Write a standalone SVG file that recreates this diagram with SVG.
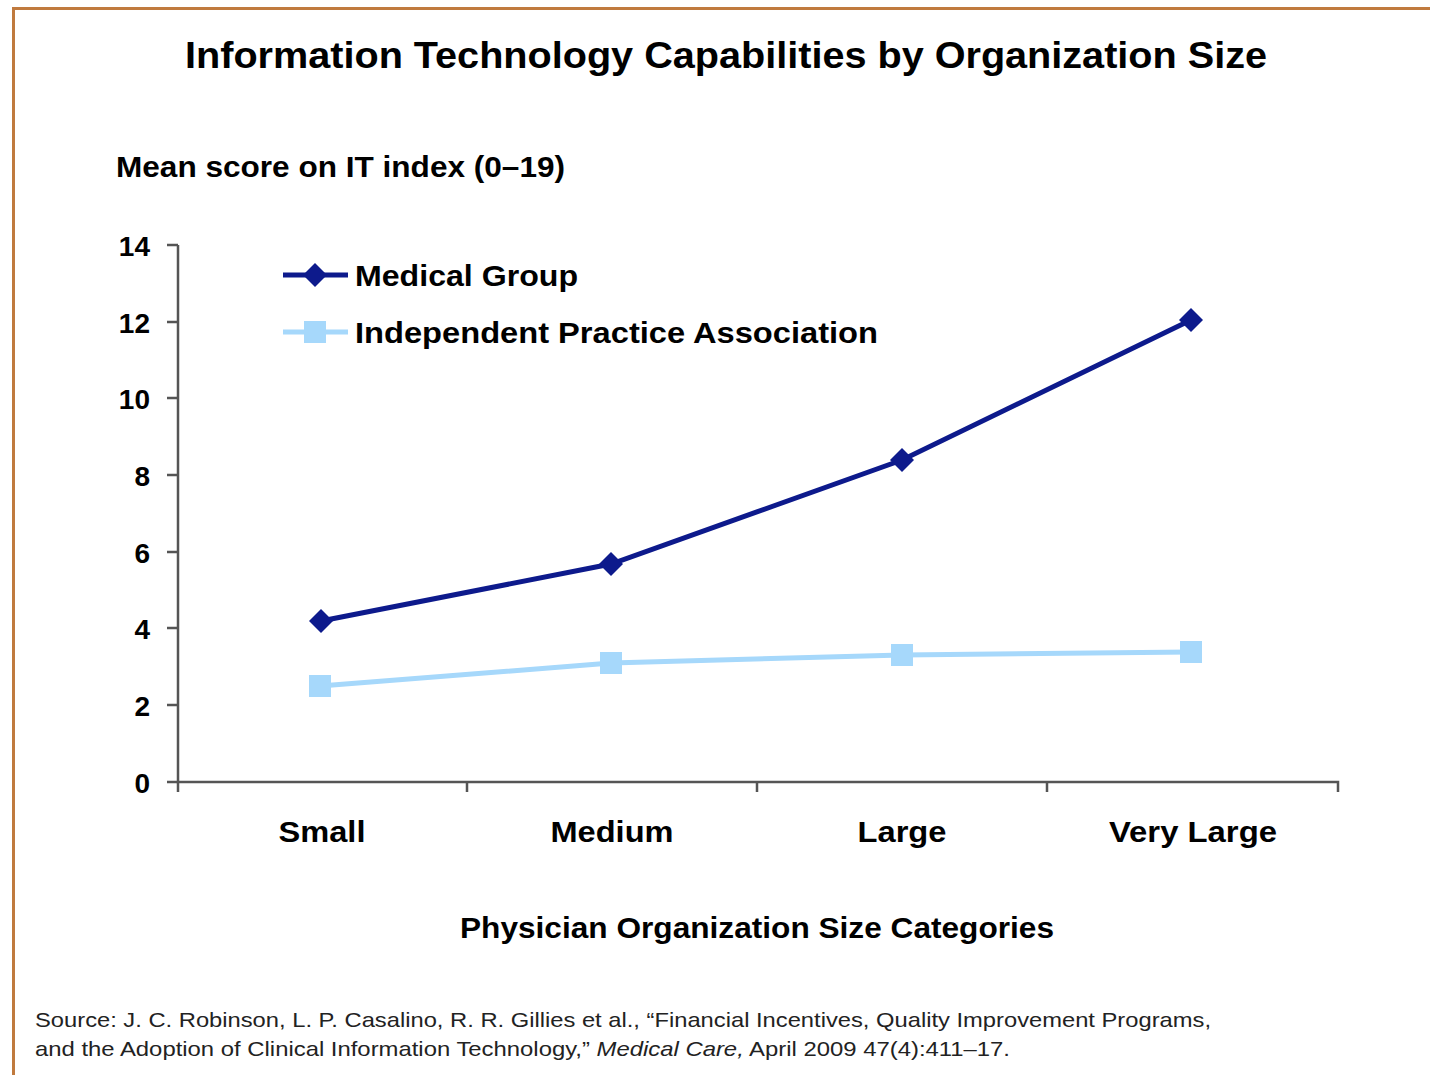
<svg xmlns="http://www.w3.org/2000/svg" width="1430" height="1075" viewBox="0 0 1430 1075">
<style>
text { font-family: "Liberation Sans", Arial, sans-serif; fill: #000; }
.b { font-weight: bold; }
.tick { font-size: 28px; font-weight: bold; text-anchor: end; }
.cat { font-size: 30px; font-weight: bold; text-anchor: middle; }
.axis { stroke: #555; stroke-width: 2.5; fill: none; }
.mg { stroke: #0d1a8c; stroke-width: 5; fill: none; }
.ipa { stroke: #a6d8fb; stroke-width: 5; fill: none; }
.src { font-size: 21px; fill: #222; }
</style>
<defs>
<polygon id="dia" points="0,-12 12,0 0,12 -12,0" fill="#0d1a8c"/>
<rect id="sq" x="-11" y="-11" width="22" height="22" fill="#a6d8fb"/>
</defs>
<rect x="0" y="0" width="1430" height="1075" fill="#fff"/>
<path d="M13.5,1080 V8.5 H1440" fill="none" stroke="#c07a3e" stroke-width="3"/>
<g id="title"><text x="726" y="68" class="b" font-size="36" text-anchor="middle" textLength="1082" lengthAdjust="spacingAndGlyphs">Information Technology Capabilities by Organization Size</text></g>
<g id="ylabel"><text x="116" y="177" class="b" font-size="29" textLength="449" lengthAdjust="spacingAndGlyphs">Mean score on IT index (0–19)</text></g>
<g id="axes">
<path class="axis" d="M178,245 V782 H1338 V792"/>
<path class="axis" d="M167,245 H178 M167,322 H178 M167,398 H178 M167,475 H178 M167,552 H178 M167,628 H178 M167,705 H178 M167,782 H178 M178,782 V792 M467,782 V792 M757,782 V792 M1047,782 V792"/>
<text class="tick" x="150" y="256">14</text>
<text class="tick" x="150" y="333">12</text>
<text class="tick" x="150" y="409">10</text>
<text class="tick" x="150" y="486">8</text>
<text class="tick" x="150" y="563">6</text>
<text class="tick" x="150" y="639">4</text>
<text class="tick" x="150" y="716">2</text>
<text class="tick" x="150" y="793">0</text>
<text class="cat" x="322" y="842" textLength="87" lengthAdjust="spacingAndGlyphs">Small</text>
<text class="cat" x="612" y="842" textLength="123" lengthAdjust="spacingAndGlyphs">Medium</text>
<text class="cat" x="902" y="842" textLength="89" lengthAdjust="spacingAndGlyphs">Large</text>
<text class="cat" x="1193" y="842" textLength="168" lengthAdjust="spacingAndGlyphs">Very Large</text>
<text class="cat" x="757" y="938" textLength="594" lengthAdjust="spacingAndGlyphs">Physician Organization Size Categories</text>
</g>
<g id="connectors">
<polyline id="ipa-line" class="ipa" points="320,686 611,663 902,655 1191,652"/>
<polyline id="mg-line" class="mg" points="321,621 611,564 902,460 1191,320"/>
</g>
<g id="ipa-points">
<use href="#sq" x="320" y="686"/><use href="#sq" x="611" y="663"/><use href="#sq" x="902" y="655"/><use href="#sq" x="1191" y="652"/>
</g>
<g id="mg-points">
<use href="#dia" x="321" y="621"/><use href="#dia" x="611" y="564"/><use href="#dia" x="902" y="460"/><use href="#dia" x="1191" y="320"/>
</g>
<g id="legend">
<line class="mg" x1="283" y1="275" x2="348" y2="275"/>
<use href="#dia" x="315" y="275"/>
<text x="355" y="286" class="b" font-size="30" textLength="223" lengthAdjust="spacingAndGlyphs">Medical Group</text>
<line class="ipa" x1="283" y1="332" x2="348" y2="332"/>
<use href="#sq" x="315" y="332"/>
<text x="355" y="343" class="b" font-size="30" textLength="523" lengthAdjust="spacingAndGlyphs">Independent Practice Association</text>
</g>
<g id="source">
<text class="src" x="35" y="1027" textLength="1176" lengthAdjust="spacingAndGlyphs">Source: J. C. Robinson, L. P. Casalino, R. R. Gillies et al., “Financial Incentives, Quality Improvement Programs,</text>
<text class="src" x="35" y="1056" textLength="975" lengthAdjust="spacingAndGlyphs">and the Adoption of Clinical Information Technology,” <tspan font-style="italic">Medical Care,</tspan> April 2009 47(4):411–17.</text>
</g>
</svg>
